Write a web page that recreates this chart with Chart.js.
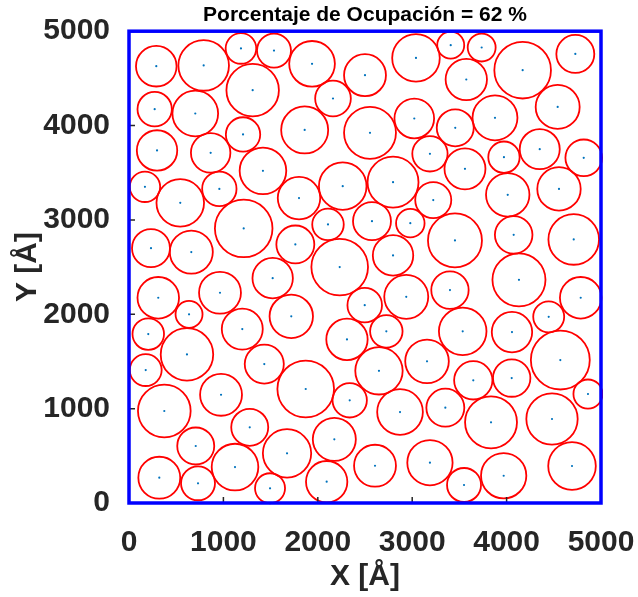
<!DOCTYPE html>
<html lang="es">
<head>
    <meta charset="UTF-8">
    <title>Porcentaje de Ocupación</title>
    <script src="https://cdn.jsdelivr.net/npm/chart.js"></script>
    <style>
        body {
            margin: 0;
            padding: 0;
            background: #fff;
        }
        .chart-box {
            width: 638px;
            height: 597px;
        }
    </style>
</head>
<body>
    <div class="chart-box">
        <canvas id="poros"></canvas>
    </div>

    <script>
        // Centros (Å) y radios (Å) de las partículas
        const centerX = [
            289, 791, 1186, 1536, 1939, 2500, 272, 702, 1310, 2161,
            297, 865, 1208, 1861, 2553, 169, 543, 957, 1419, 1801,
            2264, 233, 660, 1215, 1762, 2108, 2232, 2574, 1522,
            3040, 3408, 3736, 4170, 4728, 3573, 4541, 3022, 3456, 3877,
            3188, 3559, 3972, 4351, 4817, 2797, 3223, 4012, 4555, 2980,
            3453, 4075, 4711, 2797, 4131,
            310, 964, 636, 1719, 2497, 204, 1200, 2309, 614, 177,
            1433, 1872, 2338, 2648, 374, 975, 1279, 707, 1123, 1674,
            2175, 321, 731, 1494, 2094, 2606,
            2937, 3400, 4785, 2726, 3535, 4057, 4446, 3157, 4569, 3647,
            4054, 4862, 2871, 3351, 3835, 4481, 3188, 3549, 3969, 4693
        ];
        const centerY = [
            4629, 4637, 4817, 4795, 4654, 4534, 4174, 4128, 4375, 4287,
            3736, 3711, 3906, 3954, 3923, 3351, 3181, 3329, 3520, 3231,
            3358, 2701, 2659, 2910, 2740, 2952, 2500, 2987, 2383,
            4717, 4852, 4827, 4587, 4759, 4488, 4198, 4075, 3976, 4082,
            3700, 3541, 3665, 3750, 3658, 3400, 3210, 3266, 3329, 2966,
            2783, 2842, 2793, 2624, 2365,
            2175, 2228, 1999, 1978, 2097, 1790, 1843, 1734, 1575, 1409,
            1472, 1208, 1088, 1401, 975, 1147, 802, 604, 381, 526,
            675, 268, 209, 156, 226, 395,
            2185, 2256, 2175, 1819, 1819, 1811, 1973, 1501, 1515, 1300,
            1324, 1155, 964, 1010, 855, 890, 427, 191, 289, 392
        ];
        const radius = [
            215, 268, 162, 180, 242, 222, 182, 242, 278, 189,
            214, 209, 182, 249, 275, 161, 252, 182, 247, 225,
            252, 201, 228, 305, 201, 167, 300, 201, 214,
            252, 143, 148, 300, 201, 219, 233, 210, 196, 238,
            187, 217, 166, 212, 194, 270, 191, 230, 230, 151,
            286, 199, 268, 214, 281,
            220, 222, 143, 230, 183, 167, 217, 219, 278, 169,
            207, 300, 182, 251, 279, 222, 196, 196, 247, 256,
            228, 222, 180, 159, 219, 222,
            233, 198, 220, 172, 252, 214, 164, 231, 312, 203,
            198, 154, 242, 201, 275, 272, 240, 180, 240, 252
        ];
        const axisTicks = [0, 1000, 2000, 3000, 4000, 5000];
        const ocupacion = 62;

        const particles = centerX.map((x, i) => ({ x: x, y: centerY[i], r: radius[i] }));

        const textColor = '#262626';
        const fontFamily = '"Liberation Sans", Arial, sans-serif';

        // radio en píxeles a partir del radio en Å, usando la escala X
        function pxRadius(ctx) {
            if (!ctx.raw) return 0;
            const xs = ctx.chart.scales.x;
            return Math.abs(xs.getPixelForValue(ctx.raw.r) - xs.getPixelForValue(0));
        }

        // marco azul y marcas hacia dentro, como en MATLAB
        const axesBox = {
            id: 'axesBox',
            afterDraw(chart) {
                const { ctx, chartArea: a, scales } = chart;
                ctx.save();
                ctx.strokeStyle = textColor;
                ctx.lineWidth = 1.5;
                ctx.beginPath();
                axisTicks.forEach(v => {
                    const px = scales.x.getPixelForValue(v);
                    ctx.moveTo(px, a.bottom);
                    ctx.lineTo(px, a.bottom - 6);
                    const py = scales.y.getPixelForValue(v);
                    ctx.moveTo(a.left, py);
                    ctx.lineTo(a.left + 6, py);
                });
                ctx.stroke();
                ctx.strokeStyle = '#0000ff';
                ctx.lineWidth = 3.5;
                ctx.strokeRect(a.left, a.top, a.right - a.left, a.bottom - a.top);
                ctx.restore();
            }
        };

        const tickFont = { family: fontFamily, size: 30, weight: 'bold', lineHeight: 1.2 };

        new Chart(document.getElementById('poros'), {
            type: 'scatter',
            data: {
                datasets: [{
                    label: 'Partículas',
                    data: particles,
                    pointRadius: pxRadius,
                    pointHoverRadius: pxRadius,
                    pointBorderColor: '#ff0000',
                    pointBackgroundColor: 'rgba(0,0,0,0)',
                    pointBorderWidth: 1.8,
                    pointHoverBorderWidth: 1.8,
                    clip: 2
                }, {
                    label: 'Centros',
                    data: particles,
                    pointRadius: 1.1,
                    pointBorderWidth: 0,
                    pointBackgroundColor: '#0072bd',
                    clip: 2
                }]
            },
            options: {
                responsive: true,
                maintainAspectRatio: false,
                animation: false,
                events: [],
                layout: {
                    padding: { left: 0, right: 37, top: 0, bottom: 0 }
                },
                plugins: {
                    legend: { display: false },
                    tooltip: { enabled: false },
                    title: {
                        display: true,
                        fullSize: false,
                        text: 'Porcentaje de Ocupación = ' + ocupacion + ' %',
                        color: '#000',
                        font: { family: fontFamily, size: 21, weight: 'bold', lineHeight: 1.2 },
                        padding: { top: 3, bottom: 3 }
                    }
                },
                scales: {
                    x: {
                        type: 'linear',
                        min: 0,
                        max: 5000,
                        afterFit: s => { s.height = 94; s.paddingRight = 0; s.paddingLeft = 0; },
                        afterBuildTicks: s => { s.ticks = axisTicks.map(v => ({ value: v })); },
                        grid: { display: false },
                        border: { display: false },
                        ticks: {
                            color: textColor,
                            padding: 14,
                            maxRotation: 0,
                            callback: v => String(v),
                            font: tickFont
                        },
                        title: {
                            display: true,
                            text: 'X [Å]',
                            color: textColor,
                            padding: { top: 0, bottom: 2 },
                            font: tickFont
                        }
                    },
                    y: {
                        type: 'linear',
                        min: 0,
                        max: 5000,
                        afterFit: s => { s.width = 129; s.paddingTop = 0; s.paddingBottom = 0; },
                        afterBuildTicks: s => { s.ticks = axisTicks.map(v => ({ value: v })); },
                        grid: { display: false },
                        border: { display: false },
                        ticks: {
                            color: textColor,
                            padding: 11,
                            callback: v => String(v),
                            font: tickFont
                        },
                        title: {
                            display: true,
                            text: 'Y [Å]',
                            color: textColor,
                            padding: { top: 10, bottom: 0 },
                            font: tickFont
                        }
                    }
                }
            },
            plugins: [axesBox]
        });
    </script>
</body>
</html>
